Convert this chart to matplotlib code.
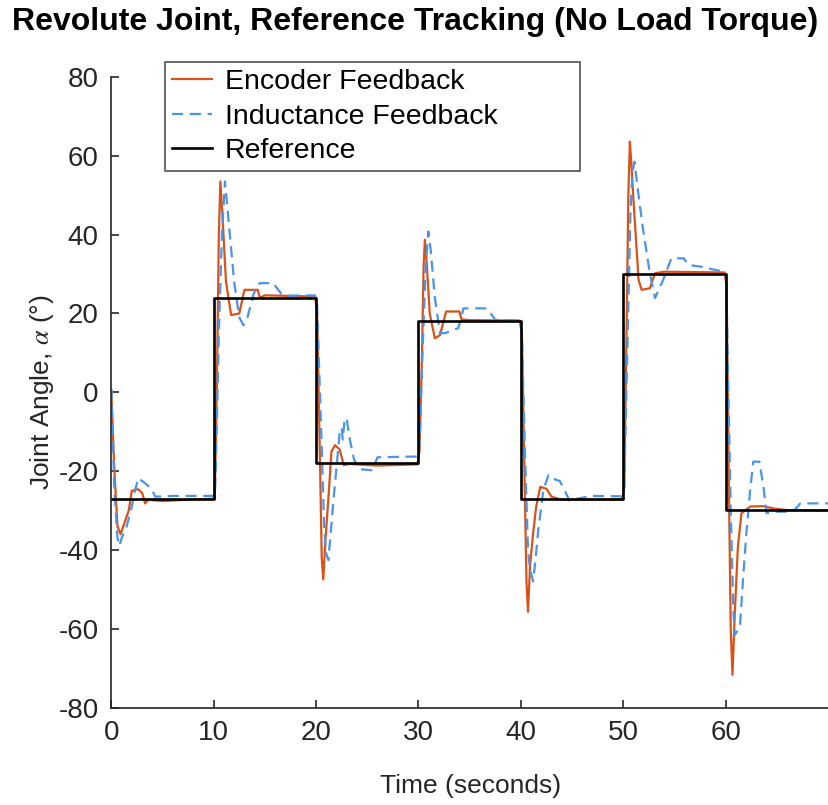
import numpy as np
import matplotlib
matplotlib.use("Agg")
import matplotlib.pyplot as plt

plt.rcParams['font.family'] = ['Liberation Sans', 'DejaVu Sans']
plt.rcParams['mathtext.fontset'] = 'stix'
plt.rcParams['axes.unicode_minus'] = False

# reference steps (level holds from each time to the next)
t_ref = [0, 10, 20, 30, 40, 50, 60, 70.9]
y_ref = [-27, 24, -18, 18, -27, 30, -30, -30]

# encoder feedback
t_enc = [0, 0.3, 0.6, 0.9, 1.3, 1.7, 2.0, 2.6, 3.0, 3.3, 3.6, 5, 8, 10.1,
         10.3, 10.5, 10.65, 10.85, 11.2, 11.7, 12.5, 13.0, 14.3, 14.5, 15.0, 19.9,
         20.1, 20.4, 20.55, 20.7, 20.9, 21.2, 21.5, 21.85, 22.3, 22.7, 23.2, 26, 29.9,
         30.1, 30.35, 30.5, 30.63, 30.8, 31.1, 31.6, 32.1, 32.7, 34.0, 34.2, 35, 39.9,
         40.1, 40.35, 40.55, 40.7, 40.9, 41.2, 41.5, 41.9, 42.5, 43.0, 44, 49.9,
         50.1, 50.35, 50.5, 50.65, 50.8, 51.0, 51.5, 51.8, 52.6, 53.1, 54, 59.9,
         60.1, 60.3, 60.5, 60.67, 60.9, 61.2, 61.55, 62.4, 63.7, 64.7, 66, 70.9]
y_enc = [0, -20, -34, -36, -33, -30, -25, -24.6, -25.5, -28.2, -27.3, -27.6, -27.2, -27,
         0, 40, 53.5, 45, 28, 19.6, 20, 26, 26, 24, 24.6, 24.3,
         20, -20, -42, -47.5, -38, -27, -15, -13.4, -14.5, -18.5, -18.2, -18.6, -18.3,
         -15, 10, 32, 38.7, 33, 20, 13.7, 14.5, 20.5, 20.5, 18.5, 18.3, 18.2,
         15, -20, -48, -55.7, -44, -35.8, -29, -24, -24.5, -26.5, -27.3, -27.2,
         -24, 20, 50, 63.6, 58, 48.8, 28.5, 26, 26.4, 30.2, 30.6, 30.4,
         27, -20, -60, -71.7, -56, -39.2, -30.7, -29, -28.9, -29.5, -29.9, -30]

# inductance feedback
t_ind = [0, 0.3, 0.6, 0.8, 1.0, 1.5, 2.0, 2.3, 2.64, 3.1, 3.9, 4.3, 6, 10.1,
         10.2, 10.5, 10.8, 11.1, 11.4, 12.0, 12.5, 12.9, 13.3, 13.9, 14.5, 15.8, 16.6, 17.1, 19.9,
         20.1, 20.5, 20.8, 21.0, 21.2, 21.45, 21.7, 22.0, 22.3, 22.5, 22.6, 22.8, 23.0, 23.3, 23.7,
         24.2, 25.5, 26, 29.9,
         30.1, 30.4, 30.7, 30.97, 31.2, 31.6, 32.1, 32.6, 33.9, 34.4, 36.7, 37.5, 39.9,
         40.1, 40.4, 40.7, 40.85, 41.0, 41.2, 41.45, 41.7, 42.2, 42.7, 43.2, 43.8, 44.3, 44.8,
         45.5, 47, 49.9,
         50.1, 50.4, 50.7, 50.9, 51.1, 51.4, 51.9, 52.6, 53.1, 53.9, 54.7, 55.9, 56.4, 57.5,
         59.8, 60.05,
         60.2, 60.5, 60.75, 60.9, 61.4, 61.7, 62.05, 62.4, 62.7, 63.3, 63.7, 64.0, 65, 66.6,
         67.3, 70.9]
y_ind = [1, -25, -37, -39, -37, -34, -29, -25, -21.8, -22.7, -24.4, -26.5, -26.3, -26.3,
         -20, 15, 40, 53.5, 45, 28, 19, 17, 19, 25, 27.7, 27.7, 25, 24.5, 24.6,
         22, -10, -35, -41, -42.6, -35, -27.3, -18.9, -10.4, -9, -12, -6.5, -7, -12, -17,
         -19.5, -19.8, -16.5, -16.3,
         -14, 10, 32, 40.8, 36, 24, 15, 15, 16.3, 21.3, 21.3, 18.4, 18.2,
         15, -15, -40, -44, -46, -48, -42, -35, -24.8, -21, -22, -22.5, -25, -27.8,
         -27, -26.3, -26.4,
         -24, 10, 45, 56, 58.5, 52, 42, 30.2, 23.9, 28.5, 34, 34, 32.3, 31.9,
         30.6, 30,
         10, -30, -55, -61.6, -59.5, -47.6, -35, -24.8, -17.6, -17.6, -24, -30.7, -30.3, -30.3,
         -28.2, -28.2]

fig = plt.figure(figsize=(8.29, 8.05), dpi=100)
ax = fig.add_axes([0.1343, 0.1211, 0.8657, 0.7832])

ax.plot(t_enc, y_enc, color='#D95319', lw=1.6, label='Encoder Feedback')
ax.plot(t_ind, y_ind, color='#4A94EA', lw=1.6, dashes=(5, 3), label='Inductance Feedback')
ax.plot(t_ref, y_ref, color='black', lw=1.9, drawstyle='steps-post', label='Reference')

ax.set_xlim(0, 70.1)
ax.set_ylim(-80, 80)
ax.set_xticks([0, 10, 20, 30, 40, 50, 60])
ax.set_yticks(np.arange(-80, 81, 20))

for s in ['top', 'right']:
    ax.spines[s].set_visible(False)
for s in ['left', 'bottom']:
    ax.spines[s].set_color('#262626')
    ax.spines[s].set_linewidth(1.2)
ax.tick_params(direction='in', length=6, width=1.2, colors='#262626',
               labelsize=20, pad=9)

ax.set_xlabel('Time (seconds)', fontsize=19, color='#262626', labelpad=20)
ax.set_ylabel(r'Joint Angle, $\alpha$ (°)', fontsize=19, color='#262626', labelpad=2)
ax.set_title('Revolute Joint, Reference Tracking (No Load Torque)',
             fontsize=23, fontweight='bold', x=0.423, pad=34)

leg = ax.legend(loc='upper left', bbox_to_anchor=(0.075, 1.024, 0.578, 0),
                mode='expand', fontsize=20.5,
                frameon=True, fancybox=False, edgecolor='#262626',
                handlelength=1.4, handletextpad=0.45, borderpad=0.25,
                labelspacing=0.3, borderaxespad=0)
leg.get_frame().set_linewidth(1.2)

fig.savefig('out.png', dpi=100)
